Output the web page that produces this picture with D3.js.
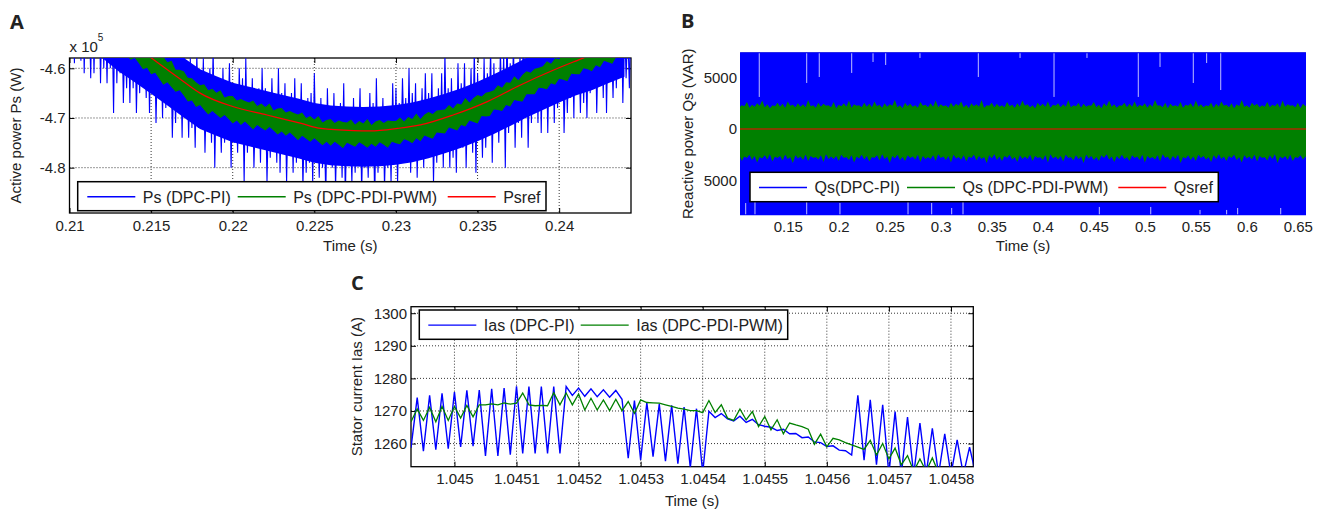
<!DOCTYPE html>
<html>
<head>
<meta charset="utf-8">
<script src="https://cdn.jsdelivr.net/npm/d3@7"></script>
<style>
  body { margin: 0; background: #fff; }
  svg { display: block; font-family: "Liberation Sans", Arial, sans-serif; }
</style>
</head>
<body>
<svg id="chart" width="1327" height="511"></svg>
<script>
//
// Three MATLAB-style panels: active power (A), reactive power (B) and
// stator current (C), DPC-PI against DPC-PDI-PWM.
//

////////////////////////////////////////////////////////////////////////
// Panel A: active power, values in units of 1e5 W

let psTicksX = [0.21, 0.215, 0.22, 0.225, 0.23, 0.235, 0.24];
let psTickLabelsX = ["0.21", "0.215", "0.22", "0.225", "0.23", "0.235", "0.24"];
let psTicksY = [-4.6, -4.7, -4.8];
let psTickLabelsY = ["-4.6", "-4.7", "-4.8"];

// reference power Psref
let psRefTime = [0.2120, 0.2150, 0.2160, 0.2170, 0.2180, 0.2200, 0.2221, 0.2242, 0.2254, 0.2274,
                 0.2284, 0.2301, 0.2315, 0.2335, 0.2356, 0.2376, 0.2397, 0.2415, 0.2444];
let psRef = [-4.507, -4.579, -4.603, -4.627, -4.650, -4.677, -4.694, -4.711, -4.721, -4.7255,
             -4.726, -4.721, -4.714, -4.694, -4.667, -4.634, -4.603, -4.579, -4.540];

// DPC-PI: dense middle of the band (one point per 1 ms) ...
let psPiBandTime = [0.210, 0.211, 0.212, 0.213, 0.214, 0.215, 0.216, 0.217, 0.218, 0.219, 0.220, 0.221,
                    0.222, 0.223, 0.224, 0.225, 0.226, 0.227, 0.228, 0.229, 0.230, 0.231, 0.232, 0.233,
                    0.234, 0.235, 0.236, 0.237, 0.238, 0.239, 0.240, 0.241, 0.242, 0.243, 0.244];
let psPiBandHigh = [-4.407, -4.433, -4.459, -4.486, -4.508, -4.531, -4.555, -4.579, -4.602, -4.616, -4.629, -4.637,
                    -4.645, -4.653, -4.661, -4.670, -4.675, -4.677, -4.678, -4.677, -4.674, -4.669, -4.661, -4.651,
                    -4.640, -4.627, -4.612, -4.596, -4.579, -4.564, -4.549, -4.535, -4.524, -4.510, -4.497];
let psPiBandLow = [-4.527, -4.553, -4.579, -4.606, -4.628, -4.651, -4.675, -4.699, -4.722, -4.736, -4.749, -4.757,
                   -4.765, -4.773, -4.781, -4.790, -4.795, -4.797, -4.798, -4.797, -4.794, -4.789, -4.781, -4.771,
                   -4.760, -4.747, -4.732, -4.716, -4.699, -4.684, -4.669, -4.655, -4.644, -4.630, -4.617];

// ... and its spikes, one sample every 0.1 ms starting at 0.21 s
let psPiStart = 0.21, psPiStep = 0.0001;
let psPi = [
  -4.42,-4.56,-4.38,-4.59,-4.44,-4.55,-4.41,-4.585,-4.38,-4.61,
  -4.43,-4.58,-4.47,-4.62,-4.42,-4.61,-4.46,-4.57,-4.41,-4.63,
  -4.46,-4.60,-4.48,-4.63,-4.44,-4.60,-4.47,-4.69,-4.42,-4.63,
  -4.50,-4.61,-4.47,-4.67,-4.53,-4.64,-4.50,-4.67,-4.46,-4.64,
  -4.50,-4.69,-4.53,-4.65,-4.49,-4.62,-4.53,-4.66,-4.48,-4.69,
  -4.53,-4.65,-4.52,-4.71,-4.56,-4.65,-4.54,-4.70,-4.51,-4.68,
  -4.57,-4.66,-4.53,-4.74,-4.60,-4.71,-4.57,-4.69,-4.55,-4.74,
  -4.52,-4.69,-4.59,-4.74,-4.58,-4.72,-4.61,-4.76,-4.57,-4.72,
  -4.61,-4.72,-4.58,-4.77,-4.63,-4.71,-4.60,-4.75,-4.56,-4.80,
  -4.62,-4.73,-4.65,-4.77,-4.60,-4.75,-4.63,-4.72,-4.59,-4.80,
  -4.63,-4.75,-4.65,-4.77,-4.60,-4.74,-4.62,-4.83,-4.58,-4.77,
  -4.65,-4.74,-4.62,-4.80,-4.67,-4.76,-4.64,-4.79,-4.60,-4.75,
  -4.64,-4.83,-4.67,-4.78,-4.62,-4.75,-4.66,-4.79,-4.60,-4.81,
  -4.65,-4.77,-4.63,-4.83,-4.67,-4.77,-4.65,-4.81,-4.62,-4.79,
  -4.67,-4.76,-4.63,-4.84,-4.69,-4.81,-4.66,-4.79,-4.65,-4.83,
  -4.61,-4.78,-4.68,-4.82,-4.66,-4.80,-4.69,-4.86,-4.64,-4.79,
  -4.69,-4.80,-4.65,-4.84,-4.70,-4.78,-4.67,-4.82,-4.63,-4.86,
  -4.68,-4.79,-4.71,-4.83,-4.66,-4.81,-4.69,-4.77,-4.64,-4.85,
  -4.68,-4.80,-4.70,-4.82,-4.65,-4.79,-4.67,-4.87,-4.62,-4.81,
  -4.69,-4.78,-4.66,-4.84,-4.71,-4.80,-4.68,-4.83,-4.63,-4.79,
  -4.64,-4.83,-4.67,-4.78,-4.62,-4.75,-4.66,-4.79,-4.60,-4.81,
  -4.65,-4.77,-4.63,-4.82,-4.67,-4.76,-4.64,-4.80,-4.61,-4.77,
  -4.65,-4.75,-4.61,-4.83,-4.67,-4.79,-4.64,-4.77,-4.61,-4.80,
  -4.57,-4.76,-4.64,-4.80,-4.62,-4.78,-4.65,-4.81,-4.59,-4.76,
  -4.63,-4.76,-4.59,-4.80,-4.64,-4.74,-4.60,-4.77,-4.56,-4.81,
  -4.61,-4.74,-4.64,-4.78,-4.58,-4.76,-4.61,-4.71,-4.56,-4.79,
  -4.59,-4.73,-4.61,-4.75,-4.56,-4.72,-4.57,-4.80,-4.52,-4.73,
  -4.59,-4.70,-4.55,-4.76,-4.60,-4.71,-4.57,-4.74,-4.52,-4.69,
  -4.55,-4.76,-4.58,-4.71,-4.52,-4.68,-4.56,-4.71,-4.50,-4.73,
  -4.54,-4.68,-4.52,-4.73,-4.56,-4.67,-4.53,-4.71,-4.49,-4.68,
  -4.56,-4.65,-4.52,-4.73,-4.58,-4.69,-4.55,-4.66,-4.52,-4.70,
  -4.48,-4.65,-4.54,-4.69,-4.52,-4.67,-4.55,-4.70,-4.50,-4.65,
  -4.53,-4.64,-4.49,-4.69,-4.54,-4.63,-4.51,-4.66,-4.46,-4.69,
  -4.51,-4.62,-4.54,-4.66,-4.49,-4.64,-4.51,-4.59,-4.46,-4.67,
  -4.50,-4.62,-4.52,-4.64,-4.46
];

// DPC-PDI-PWM: band edges, one pair every 0.25 ms starting at 0.212 s
let psPdiStart = 0.212, psPdiStep = 0.00025;
let psPdiHigh = [
  -4.494,-4.494,-4.509,-4.508,-4.519,-4.516,-4.534,-4.533,-4.535,-4.548,-4.549,-4.556,-4.563,-4.563,-4.578,-4.577,
  -4.588,-4.585,-4.603,-4.603,-4.606,-4.619,-4.620,-4.628,-4.634,-4.632,-4.644,-4.641,-4.649,-4.644,-4.659,-4.656,
  -4.656,-4.665,-4.662,-4.666,-4.669,-4.665,-4.676,-4.671,-4.678,-4.671,-4.685,-4.681,-4.680,-4.689,-4.686,-4.690,
  -4.693,-4.689,-4.700,-4.696,-4.703,-4.696,-4.709,-4.704,-4.702,-4.710,-4.705,-4.708,-4.709,-4.703,-4.713,-4.706,
  -4.711,-4.702,-4.714,-4.707,-4.704,-4.710,-4.705,-4.706,-4.706,-4.699,-4.707,-4.698,-4.702,-4.691,-4.702,-4.693,
  -4.688,-4.692,-4.685,-4.684,-4.683,-4.674,-4.681,-4.671,-4.673,-4.660,-4.669,-4.660,-4.654,-4.657,-4.649,-4.647,
  -4.644,-4.634,-4.639,-4.628,-4.629,-4.616,-4.624,-4.613,-4.606,-4.609,-4.601,-4.599,-4.596,-4.586,-4.591,-4.580,
  -4.582,-4.569,-4.578,-4.568,-4.562,-4.566,-4.558,-4.557,-4.556,-4.546,-4.552,-4.541,-4.543,-4.531,-4.540,-4.530,
  -4.524,-4.528,-4.520
];
let psPdiLow = [
  -4.536,-4.549,-4.546,-4.558,-4.570,-4.565,-4.575,-4.583,-4.579,-4.590,-4.602,-4.599,-4.612,-4.609,-4.621,-4.633,
  -4.628,-4.638,-4.647,-4.644,-4.655,-4.667,-4.665,-4.678,-4.674,-4.684,-4.693,-4.686,-4.693,-4.700,-4.694,-4.702,
  -4.711,-4.705,-4.714,-4.707,-4.715,-4.723,-4.714,-4.720,-4.725,-4.718,-4.725,-4.733,-4.727,-4.736,-4.729,-4.737,
  -4.745,-4.736,-4.742,-4.748,-4.741,-4.748,-4.755,-4.748,-4.756,-4.748,-4.754,-4.761,-4.750,-4.754,-4.758,-4.749,
  -4.754,-4.760,-4.752,-4.758,-4.749,-4.754,-4.760,-4.748,-4.751,-4.753,-4.743,-4.746,-4.751,-4.741,-4.747,-4.735,
  -4.739,-4.742,-4.729,-4.730,-4.731,-4.719,-4.722,-4.725,-4.714,-4.717,-4.705,-4.708,-4.711,-4.696,-4.697,-4.696,
  -4.683,-4.684,-4.686,-4.674,-4.677,-4.664,-4.666,-4.667,-4.652,-4.652,-4.652,-4.639,-4.640,-4.642,-4.630,-4.633,
  -4.621,-4.623,-4.626,-4.611,-4.612,-4.612,-4.600,-4.602,-4.606,-4.594,-4.598,-4.585,-4.588,-4.591,-4.577,-4.577,
  -4.577,-4.565,-4.567
];

////////////////////////////////////////////////////////////////////////
// Panel B: reactive power (VAR)

let qsTicksX = [0.15, 0.2, 0.25, 0.3, 0.35, 0.4, 0.45, 0.5, 0.55, 0.6, 0.65];
let qsTickLabelsX = ["0.15", "0.2", "0.25", "0.3", "0.35", "0.4", "0.45", "0.5", "0.55", "0.6", "0.65"];
let qsTicksY = [5000, 0, -5000];
let qsTickLabelsY = ["5000", "0", "5000"];

// DPC-PI swings far past both axis limits
let qsPiTime = [0.10, 0.20, 0.30, 0.40, 0.50, 0.60, 0.66];
let qsPiHigh = [9800, 10400, 9600, 10100, 9900, 10300, 9700];
let qsPiLow = [-10200, -9700, -10500, -9900, -10300, -9600, -10100];

// the few DPC-PI swings that stop short of the limits (thin pale streaks)
let qsPiShortTopTime = [0.1221, 0.1686, 0.1809, 0.2127, 0.2336, 0.2460, 0.2796, 0.3368,
                        0.3777, 0.4110, 0.4433, 0.4936, 0.5149, 0.5475, 0.5606, 0.5744];
let qsPiShortTop = [3100, 4450, 5030, 5420, 6480, 6190, 6870, 5030,
                    6870, 3100, 6870, 3100, 6000, 4450, 6380, 3770];
let qsPiShortBottomTime = [0.1088, 0.1179, 0.1686, 0.2012, 0.2679, 0.2911, 0.3107, 0.3218,
                           0.4554, 0.5058, 0.5541, 0.5802, 0.5910, 0.6332];
let qsPiShortBottom = [-7160, -6870, -6580, -7160, -7060, -7160, -7640, -7060,
                       -7540, -7540, -7830, -7830, -7640, -7640];

// DPC-PDI-PWM band edges, one pair every 2.5 ms starting at 0.10 s
let qsPdiStart = 0.10, qsPdiStep = 0.0025;
let qsPdiHigh = [
  2450,2100,2300,2200,2600,2050,2350,2150,2500,2250,2750,2100,2400,2000,2300,2200,2550,2150,2450,2050,
  2650,2250,2350,2100,2500,2150,2400,2100,2800,2200,2300,2050,2550,2150,2450,2250,2300,2100,2600,2000,
  2350,2200,2500,2150,2750,2050,2400,2250,2300,2100,2550,2150,2450,2100,2650,2200,2350,2050,2500,2150,
  2400,2250,2800,2100,2300,2000,2550,2200,2450,2150,2300,2050,2600,2250,2350,2100,2500,2150,2750,2100,
  2400,2200,2300,2050,2550,2150,2450,2250,2650,2100,2350,2000,2500,2200,2400,2150,2800,2050,2300,2250,
  2550,2100,2450,2150,2300,2100,2600,2200,2350,2050,2500,2150,2750,2250,2400,2100,2300,2000,2550,2200,
  2450,2150,2650,2050,2350,2250,2500,2100,2400,2150,2800,2100,2300,2200,2550,2050,2450,2150,2300,2250,
  2600,2100,2350,2000,2500,2200,2750,2150,2400,2050,2300,2250,2550,2100,2450,2150,2650,2100,2350,2200,
  2500,2050,2400,2150,2800,2250,2300,2100,2550,2000,2450,2200,2300,2150,2600,2050,2350,2250,2500,2100,
  2750,2150,2400,2100,2300,2200,2550,2050,2450,2150,2650,2250,2350,2100,2500,2000,2400,2200,2800,2150,
  2300,2050,2550,2250,2450,2100,2300,2150,2600,2100,2350,2200,2500,2050,2750,2150,2400,2250,2300,2100,
  2550,2000,2450,2200,2650
];
let qsPdiLow = [
  -2900,-2550,-3100,-2650,-2800,-2500,-3000,-2600,-3250,-2700,-2850,-2550,-2950,-2450,-3150,-2650,-2800,-2600,-3050,-2500,
  -2900,-2700,-3300,-2550,-2850,-2650,-3000,-2500,-3100,-2600,-2800,-2700,-2950,-2550,-3200,-2450,-2900,-2650,-2900,-2600,
  -3100,-2500,-2800,-2700,-3000,-2550,-3250,-2650,-2850,-2500,-2950,-2600,-3150,-2700,-2800,-2550,-3050,-2450,-2900,-2650,
  -3300,-2600,-2850,-2500,-3000,-2700,-3100,-2550,-2800,-2650,-2950,-2500,-3200,-2600,-2900,-2700,-2900,-2550,-3100,-2450,
  -2800,-2650,-3000,-2600,-3250,-2500,-2850,-2700,-2950,-2550,-3150,-2650,-2800,-2500,-3050,-2600,-2900,-2700,-3300,-2550,
  -2850,-2450,-3000,-2650,-3100,-2600,-2800,-2500,-2950,-2700,-3200,-2550,-2900,-2650,-2900,-2500,-3100,-2600,-2800,-2700,
  -3000,-2550,-3250,-2450,-2850,-2650,-2950,-2600,-3150,-2500,-2800,-2700,-3050,-2550,-2900,-2650,-3300,-2500,-2850,-2600,
  -3000,-2700,-3100,-2550,-2800,-2450,-2950,-2650,-3200,-2600,-2900,-2500,-2900,-2700,-3100,-2550,-2800,-2650,-3000,-2500,
  -3250,-2600,-2850,-2700,-2950,-2550,-3150,-2450,-2800,-2650,-3050,-2600,-2900,-2500,-3300,-2700,-2850,-2550,-3000,-2650,
  -3100,-2500,-2800,-2600,-2950,-2700,-3200,-2550,-2900,-2450,-2900,-2650,-3100,-2600,-2800,-2500,-3000,-2700,-3250,-2550,
  -2850,-2650,-2950,-2500,-3150,-2600,-2800,-2700,-3050,-2550,-2900,-2450,-3300,-2650,-2850,-2600,-3000,-2500,-3100,-2700,
  -2800,-2550,-2950,-2650,-3200
];

let qsRefTime = [0.10, 0.66];
let qsRef = [0, 0];

////////////////////////////////////////////////////////////////////////
// Panel C: stator current (A), one sample every 10 us from 1.04493 s

let iasTicksX = [1.045, 1.0451, 1.0452, 1.0453, 1.0454, 1.0455, 1.0456, 1.0457, 1.0458];
let iasTickLabelsX = ["1.045", "1.0451", "1.0452", "1.0453", "1.0454", "1.0455", "1.0456", "1.0457", "1.0458"];
let iasTicksY = [1260, 1270, 1280, 1290, 1300];
let iasTickLabelsY = ["1260", "1270", "1280", "1290", "1300"];

let iasStart = 1.04493, iasStep = 0.00001;
let iasPi = [
  1258.7,1274.1,1257.7,1274.8,1258.1,1275.4,1258.4,1275.8,1259.0,1276.3,
  1259.2,1276.4,1256.2,1276.8,1256.2,1277.0,1256.6,1277.6,1257.0,1277.5,
  1257.0,1277.5,1257.0,1277.5,1257.0,1277.5,1274.8,1277.0,1274.5,1276.8,
  1274.4,1276.5,1274.2,1276.3,1273.6,1255.5,1273.2,1255.0,1272.6,1256.0,
  1272.1,1254.6,1271.7,1253.8,1271.2,1252.6,1270.7,1251.0,1269.9,1268.0,
  1269.2,1267.6,1266.9,1268.4,1266.5,1267.4,1265.8,1265.3,1265.0,1264.0,
  1264.4,1263.0,1263.1,1261.8,1262.0,1260.5,1260.3,1259.1,1259.3,1258.0,
  1257.8,1256.5,1274.8,1254.9,1273.4,1253.5,1271.9,1250.5,1269.8,1250.5,
  1268.1,1250.5,1266.3,1250.5,1264.7,1250.5,1263.0,1250.5,1261.1,1250.5,
  1258.9,1250.5
];
let iasPdi = [
  1266.7,1270.6,1267.1,1271.1,1266.7,1271.4,1267.1,1271.4,1267.8,1271.7,
  1268.2,1271.9,1271.9,1272.2,1271.9,1272.5,1272.1,1272.4,1275.5,1271.9,
  1271.6,1271.7,1271.6,1275.6,1271.9,1275.5,1271.9,1275.2,1270.3,1273.9,
  1270.3,1273.4,1270.1,1273.6,1270.1,1272.9,1269.3,1273.4,1272.6,1272.5,
  1272.4,1271.9,1271.4,1270.9,1270.6,1270.1,1270.1,1269.5,1273.2,1269.5,
  1271.9,1267.8,1267.1,1270.6,1267.3,1269.8,1265.2,1268.3,1264.2,1267.3,
  1263.0,1266.3,1265.7,1265.2,1264.4,1259.8,1262.9,1259.0,1261.6,1261.1,
  1260.3,1259.6,1258.9,1258.2,1261.0,1256.5,1260.0,1255.3,1258.6,1253.5,
  1256.3,1251.5,1255.3,1251.5,1255.6,1251.0,1251.5,1251.0,1250.8,1251.0,
  1250.5,1250.5
];

////////////////////////////////////////////////////////////////////////

let blue = "#0000ff", green = "#008000", red = "#ff0000", ink = "#222";
let svg = d3.select("#chart");

// Build one boxed MATLAB axes: grid, ticks on all four sides, clip
function makePanel(p) {
  let g = svg.append("g");
  let x = d3.scaleLinear().domain(p.xDomain).range([p.left, p.left + p.width]);
  let y = d3.scaleLinear().domain(p.yDomain).range([p.top + p.height, p.top]);

  // dotted grid
  let grid = g.append("g")
    .attr("stroke", "#000").attr("stroke-width", 0.8).attr("stroke-dasharray", "1,2");
  grid.selectAll(".gx").data(p.xTicks).enter().append("line")
    .attr("x1", d => x(d)).attr("x2", d => x(d))
    .attr("y1", p.top).attr("y2", p.top + p.height);
  grid.selectAll(".gy").data(p.yTicks).enter().append("line")
    .attr("x1", p.left).attr("x2", p.left + p.width)
    .attr("y1", d => y(d)).attr("y2", d => y(d));

  let axes = [
    g.append("g").attr("transform", "translate(0," + (p.top + p.height) + ")")
      .call(d3.axisBottom(x).tickValues(p.xTicks).tickFormat((d, i) => p.xLabels[i])
        .tickSizeInner(-5).tickSizeOuter(0).tickPadding(7)),
    g.append("g").attr("transform", "translate(" + p.left + ",0)")
      .call(d3.axisLeft(y).tickValues(p.yTicks).tickFormat((d, i) => p.yLabels[i])
        .tickSizeInner(-5).tickSizeOuter(0).tickPadding(4)),
    g.append("g").attr("transform", "translate(0," + p.top + ")")
      .call(d3.axisTop(x).tickValues(p.xTicks).tickFormat("").tickSizeInner(-5).tickSizeOuter(0)),
    g.append("g").attr("transform", "translate(" + (p.left + p.width) + ",0)")
      .call(d3.axisRight(y).tickValues(p.yTicks).tickFormat("").tickSizeInner(-5).tickSizeOuter(0))
  ];
  axes.forEach(a => {
    a.select(".domain").remove();
    a.attr("font-size", 15).attr("font-family", null);
    a.selectAll("text").attr("fill", ink);
  });

  g.append("rect")
    .attr("x", p.left).attr("y", p.top).attr("width", p.width).attr("height", p.height)
    .attr("fill", "none").attr("stroke", "#000").attr("stroke-width", 1.3);

  // data may cover the frame in panel B
  let pad = p.coverFrame ? 1 : 0;
  svg.append("clipPath").attr("id", "clip-" + p.name).append("rect")
    .attr("x", p.left - pad).attr("y", p.top - pad)
    .attr("width", p.width + 2 * pad).attr("height", p.height + 2 * pad);
  let plot = g.append("g").attr("clip-path", "url(#clip-" + p.name + ")");

  // axis titles
  g.append("text")
    .attr("transform", "translate(" + p.yTitleX + "," + (p.top + p.height / 2) + ") rotate(-90)")
    .attr("text-anchor", "middle").attr("font-size", 15).attr("fill", ink)
    .text(p.yTitle);
  g.append("text")
    .attr("x", p.left + p.width / 2).attr("y", p.xTitleY)
    .attr("text-anchor", "middle").attr("font-size", 15).attr("fill", ink)
    .text("Time (s)");

  return { g: g, x: x, y: y, plot: plot, top: p.top, bottom: p.top + p.height };
}

function makeLegend(box, entries) {
  let lg = svg.append("g");
  lg.append("rect")
    .attr("x", box.x).attr("y", box.y).attr("width", box.w).attr("height", box.h)
    .attr("fill", "#fff").attr("stroke", "#000").attr("stroke-width", 1.5);
  let ly = box.y + box.h / 2 + 0.5;
  entries.forEach(e => {
    lg.append("line")
      .attr("x1", e.x).attr("x2", e.x + 48).attr("y1", ly).attr("y2", ly)
      .attr("stroke", e.color).attr("stroke-width", 1.4);
    lg.append("text")
      .attr("x", e.x + 55.5).attr("y", ly + 5.8)
      .attr("font-size", 16).attr("fill", ink)
      .text(e.label);
  });
}

function panelLetter(txt, x, y) {
  svg.append("text").attr("x", x).attr("y", y)
    .attr("font-family", "'Open Sans', sans-serif").attr("font-weight", 700)
    .attr("font-size", 20).attr("fill", ink).text(txt);
}

////////////////////////////////////////////////////////////////////////
// Panel A

let plotA = makePanel({
  name: "a", left: 69.5, top: 58, width: 561.5, height: 155,
  xDomain: [0.21, 0.2444], yDomain: [-4.8912, -4.5793],
  xTicks: psTicksX, xLabels: psTickLabelsX, yTicks: psTicksY, yLabels: psTickLabelsY,
  yTitle: "Active power Ps (W)", yTitleX: 21, xTitleY: 251
});

plotA.plot.append("path")
  .datum(psPiBandTime)
  .attr("fill", blue)
  .attr("d", d3.area()
    .x(d => plotA.x(d))
    .y0((d, i) => plotA.y(psPiBandLow[i]))
    .y1((d, i) => plotA.y(psPiBandHigh[i])));

plotA.plot.append("path")
  .datum(psPi)
  .attr("fill", "none").attr("stroke", blue).attr("stroke-width", 1.1)
  .attr("d", d3.line()
    .x((d, i) => plotA.x(psPiStart + i * psPiStep))
    .y(d => plotA.y(d)));

plotA.plot.append("path")
  .datum(psPdiHigh)
  .attr("fill", green)
  .attr("d", d3.area()
    .x((d, i) => plotA.x(psPdiStart + i * psPdiStep))
    .y0((d, i) => plotA.y(psPdiLow[i]))
    .y1(d => plotA.y(d)));

plotA.plot.append("path")
  .datum(psRefTime)
  .attr("fill", "none").attr("stroke", red).attr("stroke-width", 1.2)
  .attr("d", d3.line()
    .curve(d3.curveMonotoneX)
    .x(d => plotA.x(d))
    .y((d, i) => plotA.y(psRef[i])));

// exponent label above the y axis
let expA = plotA.g.append("text").attr("x", 69.5).attr("y", 51.5)
  .attr("font-size", 15).attr("fill", ink);
expA.append("tspan").text("x 10");
expA.append("tspan").attr("dy", -11).attr("font-size", 10).text("5");

makeLegend({ x: 77.7, y: 181.7, w: 468.3, h: 29 }, [
  { label: "Ps (DPC-PI)", color: blue, x: 87.3 },
  { label: "Ps (DPC-PDI-PWM)", color: green, x: 237.7 },
  { label: "Psref", color: red, x: 447.7 }
]);

////////////////////////////////////////////////////////////////////////
// Panel B

let plotB = makePanel({
  name: "b", left: 741, top: 53.3, width: 564, height: 161, coverFrame: true,
  xDomain: [0.1042, 0.657], yDomain: [-8250, 7321],
  xTicks: qsTicksX, xLabels: qsTickLabelsX, yTicks: qsTicksY, yLabels: qsTickLabelsY,
  yTitle: "Reactive power Qs (VAR)", yTitleX: 692.5, xTitleY: 251
});

plotB.plot.append("path")
  .datum(qsPiTime)
  .attr("fill", blue)
  .attr("d", d3.area()
    .x(d => plotB.x(d))
    .y0((d, i) => plotB.y(qsPiLow[i]))
    .y1((d, i) => plotB.y(qsPiHigh[i])));

// pale streaks where a swing falls short of the top / bottom limit
let streaks = plotB.plot.append("g")
  .attr("stroke", "#fff").attr("stroke-opacity", 0.75).attr("stroke-width", 1);
streaks.selectAll(".st").data(qsPiShortTopTime).enter().append("line")
  .attr("x1", d => plotB.x(d)).attr("x2", d => plotB.x(d))
  .attr("y1", plotB.top).attr("y2", (d, i) => plotB.y(qsPiShortTop[i]));
streaks.selectAll(".sb").data(qsPiShortBottomTime).enter().append("line")
  .attr("x1", d => plotB.x(d)).attr("x2", d => plotB.x(d))
  .attr("y1", plotB.bottom).attr("y2", (d, i) => plotB.y(qsPiShortBottom[i]));

plotB.plot.append("path")
  .datum(qsPdiHigh)
  .attr("fill", green)
  .attr("d", d3.area()
    .x((d, i) => plotB.x(qsPdiStart + i * qsPdiStep))
    .y0((d, i) => plotB.y(qsPdiLow[i]))
    .y1(d => plotB.y(d)));

plotB.plot.append("path")
  .datum(qsRefTime)
  .attr("fill", "none").attr("stroke", red).attr("stroke-width", 1.2)
  .attr("d", d3.line()
    .x(d => plotB.x(d))
    .y((d, i) => plotB.y(qsRef[i])));

makeLegend({ x: 750, y: 172.3, w: 468.3, h: 29.4 }, [
  { label: "Qs(DPC-PI)", color: blue, x: 759 },
  { label: "Qs (DPC-PDI-PWM)", color: green, x: 907 },
  { label: "Qsref", color: red, x: 1118.3 }
]);

////////////////////////////////////////////////////////////////////////
// Panel C

let plotC = makePanel({
  name: "c", left: 411, top: 306.7, width: 562.3, height: 160,
  xDomain: [1.04493, 1.045836], yDomain: [1252.9, 1302],
  xTicks: iasTicksX, xLabels: iasTickLabelsX, yTicks: iasTicksY, yLabels: iasTickLabelsY,
  yTitle: "Stator current Ias (A)", yTitleX: 362, xTitleY: 505.5
});

plotC.plot.append("path")
  .datum(iasPi)
  .attr("fill", "none").attr("stroke", blue).attr("stroke-width", 1.4)
  .attr("d", d3.line()
    .x((d, i) => plotC.x(iasStart + i * iasStep))
    .y(d => plotC.y(d)));

plotC.plot.append("path")
  .datum(iasPdi)
  .attr("fill", "none").attr("stroke", green).attr("stroke-width", 1.3)
  .attr("d", d3.line()
    .x((d, i) => plotC.x(iasStart + i * iasStep))
    .y(d => plotC.y(d)));

makeLegend({ x: 419.3, y: 310, w: 368.4, h: 29.3 }, [
  { label: "Ias (DPC-PI)", color: blue, x: 428.3 },
  { label: "Ias (DPC-PDI-PWM)", color: green, x: 580.7 }
]);

panelLetter("A", 10, 29.3);
panelLetter("B", 681, 28.3);
panelLetter("C", 351, 290);
</script>
</body>
</html>
